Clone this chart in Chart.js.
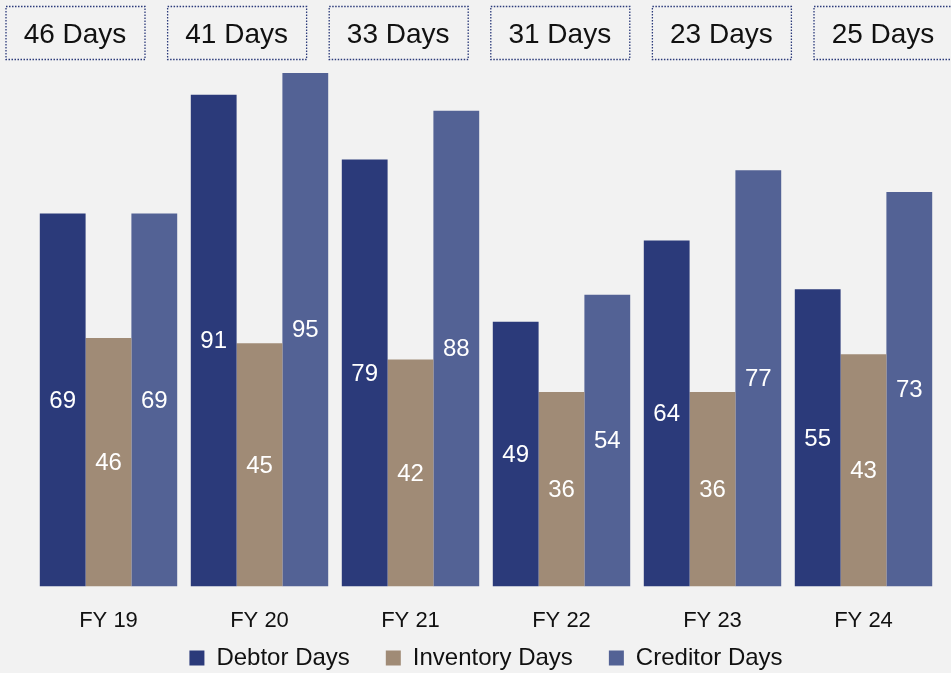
<!DOCTYPE html>
<html><head><meta charset="utf-8">
<script src="https://cdn.jsdelivr.net/npm/chart.js@4/dist/chart.umd.min.js"></script>
<style>html,body{margin:0;padding:0;background:#f2f2f2;}#wrap{width:951px;height:673px;}</style>
</head><body><div id="wrap"><canvas id="c" width="951" height="673"></canvas></div>
<script>
const categories = ["FY 19","FY 20","FY 21","FY 22","FY 23","FY 24"];
const debtorDays = [69,91,79,49,64,55];
const inventoryDays = [46,45,42,36,36,43];
const creditorDays = [69,95,88,54,77,73];
const cycleLabels = ["46 Days","41 Days","33 Days","31 Days","23 Days","25 Days"];
const FONT = "'Liberation Sans', Arial, sans-serif";
const LEGEND_SHRINK = 44, LEGEND_SHIFT = 7;

const labelPlugin = {
  id:'labels',
  beforeLayout(chart){
    const lg = chart.legend;
    if (lg && !lg._patched){
      const f = lg.fit;
      lg.fit = function(){ f.call(this); this.height -= LEGEND_SHRINK; };
      lg._patched = true;
    }
  },
  afterLayout(chart){
    const lg = chart.legend;
    if (!lg) return;
    lg.top = lg.top - LEGEND_SHRINK + LEGEND_SHIFT;
    lg.height += LEGEND_SHRINK;
    lg.bottom = lg.top + lg.height;
  },
  afterDatasetsDraw(chart){
    const ctx = chart.ctx;
    ctx.save();
    ctx.fillStyle = '#ffffff';
    ctx.font = '24px ' + FONT;
    ctx.textAlign='center'; ctx.textBaseline='middle';
    chart.data.datasets.forEach((ds,di)=>{
      chart.getDatasetMeta(di).data.forEach((bar,i)=>{
        ctx.fillText(String(ds.data[i]), bar.x, (bar.y+bar.base)/2 + 1);
      });
    });
    // top boxes
    ctx.font = '28px ' + FONT;
    cycleLabels.forEach((t,i)=>{
      const cx = 75 + i*161.6;
      const bw = 139, bh = 53;
      ctx.fillStyle='#f2f2f2';
      ctx.fillRect(cx-bw/2, 6, bw, bh);
      ctx.strokeStyle='#2b3a7a'; ctx.lineWidth=1.3; ctx.setLineDash([1.5,1.5]);
      ctx.strokeRect(cx-bw/2+0.5, 6.5, bw, bh);
      ctx.setLineDash([]);
      ctx.fillStyle='#111111';
      ctx.fillText(t, cx, 35);
    });
    ctx.restore();
  }
};

new Chart(document.getElementById('c'),{
  type:'bar',
  data:{labels:categories,datasets:[
    {label:'Debtor Days',data:debtorDays,backgroundColor:'#2b3a7a'},
    {label:'Inventory Days',data:inventoryDays,backgroundColor:'#a08b76'},
    {label:'Creditor Days',data:creditorDays,backgroundColor:'#536295'}
  ]},
  options:{
    responsive:false,animation:false,
    layout:{padding:{left:33,right:12,top:46,bottom:0}},
    datasets:{bar:{categoryPercentage:0.91,barPercentage:1.0}},
    scales:{
      x:{grid:{display:false},border:{display:false},ticks:{color:'#111',font:{family:FONT,size:22},padding:13}},
      y:{display:false,min:0,max:100}
    },
    plugins:{
      legend:{position:'bottom',labels:{color:'#111',font:{family:FONT,size:24},boxWidth:15,boxHeight:15,padding:36}},
      tooltip:{enabled:false}
    }
  },
  plugins:[labelPlugin]
});
</script></body></html>
